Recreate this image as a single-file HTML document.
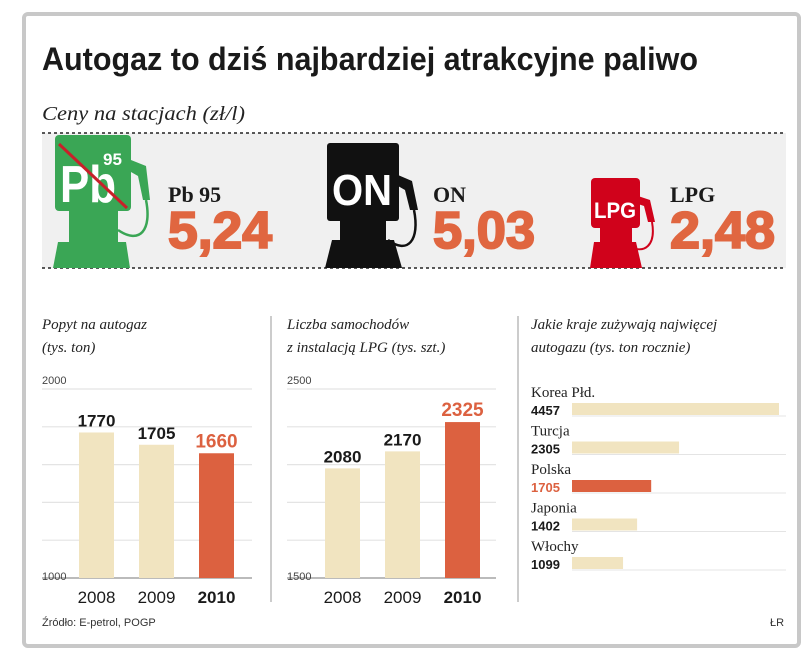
<!DOCTYPE html>
<html><head><meta charset="utf-8"><style>
body{margin:0;background:#fff;width:805px;height:660px;overflow:hidden}
svg{display:block}
.sans{font-family:"Liberation Sans",sans-serif}
.serif{font-family:"Liberation Serif",serif}
</style></head><body>
<svg id="root" width="805" height="660" viewBox="0 0 805 660">
<rect x="24" y="14" width="775" height="632" rx="4" fill="#fff" stroke="#c8c8c8" stroke-width="4"/>
<text x="42" y="70" class="sans" font-weight="bold" font-size="32" fill="#1a1a1a" textLength="656" lengthAdjust="spacingAndGlyphs">Autogaz to dziś najbardziej atrakcyjne paliwo</text>
<text x="42" y="120" class="serif" font-style="italic" font-size="20" fill="#222" textLength="203" lengthAdjust="spacingAndGlyphs">Ceny na stacjach (zł/l)</text>
<rect x="42" y="133" width="744" height="135" fill="#f0f0f0"/>
<line x1="42" y1="133" x2="786" y2="133" stroke="#222" stroke-width="1.5" stroke-dasharray="3,3"/>
<line x1="42" y1="268" x2="786" y2="268" stroke="#222" stroke-width="1.5" stroke-dasharray="3,3"/>

<g>
<path d="M131 160 L146 166 L150 200 L143 200 L138 176 L131 172 Z" fill="#3aa655"/>
<path d="M146 200 C152 230 140 245 118 230" fill="none" stroke="#3aa655" stroke-width="2.5"/>
<rect x="55" y="135" width="76" height="76" rx="4" fill="#3aa655"/>
<rect x="69" y="210" width="49" height="34" fill="#3aa655"/>
<path d="M58 242 L126 242 L130 268 L53 268 Z" fill="#3aa655"/>
<text x="60" y="202" class="sans" font-weight="bold" font-size="52" fill="#fff" textLength="56" lengthAdjust="spacingAndGlyphs">Pb</text>
<text x="103" y="165" class="sans" font-weight="bold" font-size="17" fill="#fff">95</text>
<line x1="59" y1="144" x2="127" y2="208" stroke="#c8202a" stroke-width="3"/>
</g>
<text x="168" y="202" class="serif" font-weight="bold" font-size="22" fill="#1a1a1a">Pb 95</text>
<text x="168" y="248" class="sans" font-weight="bold" font-size="52" fill="#e06640" stroke="#e06640" stroke-width="2" textLength="104" lengthAdjust="spacingAndGlyphs">5,24</text>

<g>
<path d="M398 175 L412 181 L418 210 L410 210 L405 190 L398 186 Z" fill="#111"/>
<path d="M414 210 C420 240 408 255 388 240" fill="none" stroke="#111" stroke-width="2.5"/>
<rect x="327" y="143" width="72" height="78" rx="3" fill="#111"/>
<rect x="340" y="220" width="46" height="22" fill="#111"/>
<path d="M332 240 L394 240 L402 268 L325 268 Z" fill="#111"/>
<text x="332" y="205" class="sans" font-weight="bold" font-size="44" fill="#fff" textLength="60" lengthAdjust="spacingAndGlyphs">ON</text>
</g>
<text x="433" y="202" class="serif" font-weight="bold" font-size="22" fill="#1a1a1a">ON</text>
<text x="433" y="248" class="sans" font-weight="bold" font-size="52" fill="#e06640" stroke="#e06640" stroke-width="2" textLength="102" lengthAdjust="spacingAndGlyphs">5,03</text>

<g>
<path d="M638 196 L650 200 L655 222 L648 222 L644 206 L638 204 Z" fill="#d0021b"/>
<path d="M652 222 C656 245 645 255 628 246" fill="none" stroke="#d0021b" stroke-width="2"/>
<rect x="591" y="178" width="49" height="50" rx="4" fill="#d0021b"/>
<rect x="600" y="226" width="32" height="18" fill="#d0021b"/>
<path d="M594 242 L636 242 L642 268 L590 268 Z" fill="#d0021b"/>
<text x="594" y="218" class="sans" font-weight="bold" font-size="22" fill="#fff" textLength="42" lengthAdjust="spacingAndGlyphs">LPG</text>
</g>
<text x="670" y="202" class="serif" font-weight="bold" font-size="22" fill="#1a1a1a">LPG</text>
<text x="670" y="248" class="sans" font-weight="bold" font-size="52" fill="#e06640" stroke="#e06640" stroke-width="2" textLength="105" lengthAdjust="spacingAndGlyphs">2,48</text>

<line x1="271" y1="316" x2="271" y2="602" stroke="#ccc" stroke-width="2"/>
<line x1="518" y1="316" x2="518" y2="602" stroke="#ccc" stroke-width="2"/>

<g class="serif" font-style="italic" font-size="15" fill="#222">
<text x="42" y="329">Popyt na autogaz</text>
<text x="42" y="352">(tys. ton)</text>
<text x="287" y="329">Liczba samochodów</text>
<text x="287" y="352">z instalacją LPG (tys. szt.)</text>
<text x="531" y="329">Jakie kraje zużywają najwięcej</text>
<text x="531" y="352">autogazu (tys. ton rocznie)</text>
</g>
<g id="charts"></g>
<text x="42" y="626" class="sans" font-size="11" fill="#333">Źródło: E-petrol, POGP</text>
<text x="770" y="626" class="sans" font-size="11" fill="#333">ŁR</text>
</svg>
<script>
const years = ["2008","2009","2010"];
const demandValues = [1770,1705,1660];
const demandTicks = [1000,2000];
const carValues = [2080,2170,2325];
const carTicks = [1500,2500];
const countries = ["Korea Płd.","Turcja","Polska","Japonia","Włochy"];
const countryValues = [4457,2305,1705,1402,1099];

const NS="http://www.w3.org/2000/svg";
const g=document.getElementById('charts');
function mk(tag,attrs,txt){const e=document.createElementNS(NS,tag);for(const k in attrs)e.setAttribute(k,attrs[k]);if(txt!==undefined)e.textContent=txt;g.appendChild(e);return e;}
const BEIGE="#f1e4c0", ORANGE="#dc6140";

function vchart(x0,x1,vals,ticks,barX,prefix){
  const yTop=389,yBot=578,min=ticks[0],max=ticks[ticks.length-1];
  const y=v=>yBot-(v-min)/(max-min)*(yBot-yTop);
  for(let i=0;i<=5;i++){
    const v=min+(max-min)*i/5;
    const l=mk('line',{x1:x0,x2:x1,y1:y(v),y2:y(v),stroke:i===0?'#bbb':'#e4e4e4','stroke-width':i===0?2:1.2});
    
    
  }
  ticks.forEach(t=>{
    const tx=mk('text',{x:x0,y:y(t)-(t===min?-2:5),'font-family':'Liberation Sans, sans-serif','font-size':11,fill:'#444'},String(t));
    
    
  });
  vals.forEach((v,i)=>{
    const last=i===vals.length-1;
    const bx=x0+barX+i*60;
    const r=mk('rect',{x:bx,y:y(v),width:35,height:yBot-y(v),fill:last?ORANGE:BEIGE});
    
    
    const t=mk('text',{x:bx+17.5,y:y(v)-6,'text-anchor':'middle','font-family':'Liberation Sans, sans-serif','font-weight':'bold','font-size':last?19:17,fill:last?ORANGE:'#1a1a1a'},String(v));
    
    
    const yl=mk('text',{x:bx+17.5,y:603,'text-anchor':'middle','font-family':'Liberation Sans, sans-serif','font-weight':last?'bold':'normal','font-size':17,fill:'#1a1a1a'},years[i]);
    
    
  });
}
vchart(42,252,demandValues,demandTicks,37,'demand');
vchart(287,496,carValues,carTicks,38,'cars');

const hx0=572, hmax=4457, hw=207;
countries.forEach((c,i)=>{
  const top=403+i*38.5;
  const pl=i===2;
  const n=mk('text',{x:531,y:top-6,'font-family':'Liberation Serif, serif','font-size':15,fill:'#222'},c);
  
  
  const v=mk('text',{x:531,y:top+12,'font-family':'Liberation Sans, sans-serif','font-weight':'bold','font-size':13,fill:pl?ORANGE:'#1a1a1a'},String(countryValues[i]));
  
  
  const ln=mk('line',{x1:hx0,x2:786,y1:top+13,y2:top+13,stroke:'#e4e4e4','stroke-width':1});
  
  
  const r=mk('rect',{x:hx0,y:top,width:countryValues[i]/hmax*hw,height:12,fill:pl?ORANGE:BEIGE});
  
  
});
</script>
</body></html>
